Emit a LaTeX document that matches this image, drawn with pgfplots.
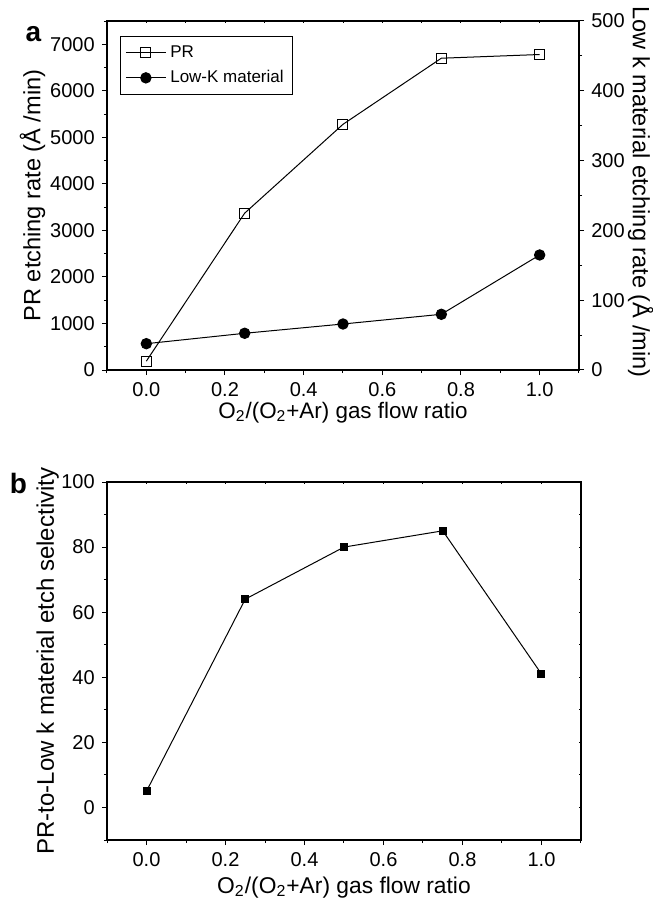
\documentclass[border=0pt]{standalone}
\usepackage{pgfplots}
\pgfplotsset{compat=1.18}
\usepackage{pgfplotstable}
\usepackage{fontspec}
\setmainfont{Liberation Sans}

\pgfplotstableread{
x pr lowk
0.00 190 37.7
0.25 3370 52.6
0.50 5280 65.9
0.75 6700 79.8
1.00 6780 164.8
}\etchdata
\pgfplotstableread{
x sel
0.00 5
0.25 64
0.50 80
0.75 85
1.00 41
}\seldata

\pgfplotsset{
  base/.style={
    scale only axis, xmin=-0.1, xmax=1.1,
    /pgf/number format/assume math mode=true,
    /pgf/number format/1000 sep={},
    scaled ticks=false,
    ticklabel style={font=\fontsize{10}{11}\selectfont},
    xticklabel style={/pgf/number format/.cd, fixed, fixed zerofill, precision=1},
    axis line style={line width=0.6pt},
    every tick/.style={black, line width=0.5pt},
    major tick length=2.6pt, minor tick length=1.6pt,
  },
}

\begin{document}
\begin{tikzpicture}
\path[use as bounding box] (0pt,0pt) rectangle (326.5pt,451pt);

% ---------- panel a: right axis ----------
\begin{axis}[base, at={(53.5pt,266pt)}, anchor=south west, width=236pt, height=174.5pt,
  ymin=0, ymax=500, axis y line*=right, axis x line=none,
  ytick={0,100,200,300,400,500}, minor ytick={50,150,250,350,450},
  tick align=outside,
  ylabel={Low k material etching rate (Å /min)},
  ylabel style={font=\fontsize{11.8}{13}\selectfont, at={(axis description cs:1.131,0.51)}, anchor=center, rotate=180},
]
\addplot[black, line width=0.5pt, mark=*, mark size=2.6pt] table[x=x,y=lowk]{\etchdata};
\end{axis}

% ---------- panel a: top mirrored ticks ----------
\begin{axis}[base, at={(53.5pt,266pt)}, anchor=south west, width=236pt, height=174.5pt,
  ymin=0, ymax=1, axis x line*=top, axis y line=none,
  xtick={-0.1,0,0.1,0.2,0.3,0.4,0.5,0.6,0.7,0.8,0.9,1.0,1.1}, xticklabels={},
  tick align=inside, major tick length=1.2pt,
]
\addplot[draw=none] coordinates {(0,0)};
\end{axis}

% ---------- panel a: main axis ----------
\begin{axis}[base, at={(53.5pt,266pt)}, anchor=south west, width=236pt, height=174.5pt,
  ymin=0, ymax=7500,
  xtick={0,0.2,0.4,0.6,0.8,1.0}, minor xtick={-0.1,0.1,0.3,0.5,0.7,0.9,1.1},
  ytick={0,1000,2000,3000,4000,5000,6000,7000}, minor ytick={500,1500,2500,3500,4500,5500,6500,7500},
  xtick pos=left, ytick pos=left, tick align=outside,
  xlabel={O\textsubscript{2}/(O\textsubscript{2}+Ar) gas flow ratio},
  xlabel style={font=\fontsize{11.2}{13}\selectfont, at={(axis description cs:0.5,-0.122)}, anchor=center},
  ylabel={PR etching rate (Å /min)},
  ylabel style={font=\fontsize{11.8}{13}\selectfont, at={(axis description cs:-0.158,0.5)}, anchor=center},
  legend style={at={(axis description cs:0.0275,0.957)}, anchor=north west,
    font=\fontsize{8.5}{10}\selectfont, draw=black, line width=0.5pt,
    inner sep=2.5pt, row sep=1pt, cells={anchor=west}},
  legend image code/.code={\draw[mark repeat=2, mark phase=2] plot coordinates {(0cm,0cm) (0.35cm,0cm) (0.7cm,0cm)};},
]
\addplot[black, line width=0.5pt, mark=square, mark size=2.5pt, mark options={fill=white, solid}] table[x=x,y=pr]{\etchdata};
\addlegendentry{PR}
\addlegendimage{black, line width=0.5pt, mark=*, mark size=2.6pt}
\addlegendentry{Low-K material}
\end{axis}

% ---------- panel b: mirrored ticks ----------
\begin{axis}[base, at={(53.5pt,31pt)}, anchor=south west, width=237pt, height=179pt,
  ymin=-10, ymax=100,
  xtick={-0.1,0,0.1,0.2,0.3,0.4,0.5,0.6,0.7,0.8,0.9,1.0,1.1}, xticklabels={},
  ytick={-10,0,10,20,30,40,50,60,70,80,90,100}, yticklabels={},
  xtick pos=right, ytick pos=right, tick align=inside, major tick length=1.2pt,
]
\addplot[draw=none] coordinates {(0,0)};
\end{axis}

% ---------- panel b: main axis ----------
\begin{axis}[base, at={(53.5pt,31pt)}, anchor=south west, width=237pt, height=179pt,
  ymin=-10, ymax=100,
  xtick={0,0.2,0.4,0.6,0.8,1.0}, minor xtick={-0.1,0.1,0.3,0.5,0.7,0.9,1.1},
  ytick={0,20,40,60,80,100}, minor ytick={-10,10,30,50,70,90},
  xtick pos=left, ytick pos=left, tick align=outside,
  xlabel={O\textsubscript{2}/(O\textsubscript{2}+Ar) gas flow ratio},
  xlabel style={font=\fontsize{11.4}{13}\selectfont, at={(axis description cs:0.5,-0.132)}, anchor=center},
  ylabel={PR-to-Low k material etch selectivity},
  ylabel style={font=\fontsize{12}{14}\selectfont, at={(axis description cs:-0.125,0.5)}, anchor=center},
]
\addplot[black, line width=0.5pt, mark=square*, mark size=1.75pt] table[x=x,y=sel]{\seldata};
\end{axis}

\node[font=\bfseries\fontsize{14}{16}\selectfont] at (16.75pt,433.75pt) {a};
\node[font=\bfseries\fontsize{14}{16}\selectfont] at (9.25pt,209.25pt) {b};
\end{tikzpicture}
\end{document}
